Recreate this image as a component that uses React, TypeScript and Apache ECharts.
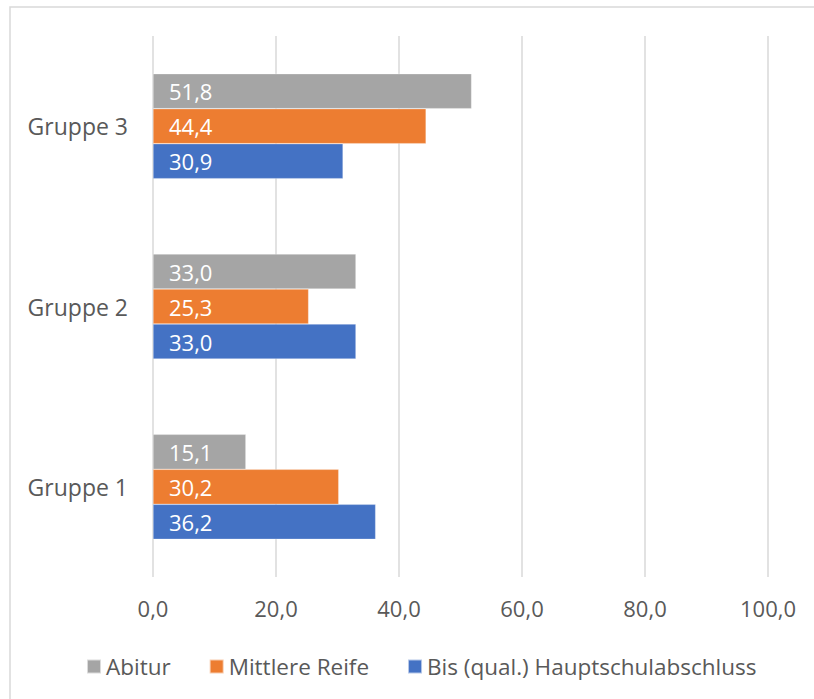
import React, { useEffect, useRef } from "react";
import * as echarts from "echarts";

const categories = ["Gruppe 1", "Gruppe 2", "Gruppe 3"];
const seriesNames = ["Abitur", "Mittlere Reife", "Bis (qual.) Hauptschulabschluss"];
const abitur = [15.1, 33.0, 51.8];
const mittlereReife = [30.2, 25.3, 44.4];
const hauptschule = [36.2, 33.0, 30.9];
const xTicks = [0, 20, 40, 60, 80, 100];
const colors = ["#A5A5A5", "#ED7D31", "#4472C4"];

const FONT = "'Open Sans', Lato, sans-serif";
const fmt = (v: number) => v.toFixed(1).replace(".", ",");

export default function App() {
  const ref = useRef<HTMLDivElement>(null);
  useEffect(() => {
    if (!ref.current) return;
    const chart = echarts.init(ref.current, undefined, { renderer: "svg" });
    const values = [abitur, mittlereReife, hauptschule];
    chart.setOption({
      animation: false,
      textStyle: { fontFamily: FONT },
      graphic: [
        {
          type: "rect",
          shape: { x: 10, y: 7, width: 830, height: 720 },
          style: { fill: "none", stroke: "#d9d9d9", lineWidth: 1.5 },
          silent: true,
        },
      ],
      grid: { left: 153, right: 46, top: 36, bottom: 122, containLabel: false },
      legend: {
        data: seriesNames,
        bottom: 21,
        left: 86,
        padding: 0,
        itemWidth: 14,
        itemHeight: 14,
        itemGap: 38,
        icon: "rect",
        textStyle: { color: "#595959", fontSize: 22.5, fontFamily: FONT },
      },
      xAxis: {
        type: "value",
        min: xTicks[0],
        max: xTicks[xTicks.length - 1],
        interval: 20,
        axisLine: { show: false },
        axisTick: { show: false },
        splitLine: { lineStyle: { color: "#d9d9d9", width: 1.5 } },
        axisLabel: {
          color: "#595959",
          fontSize: 22,
          margin: 20,
          fontFamily: FONT,
          formatter: (v: number) => fmt(v),
        },
      },
      yAxis: {
        type: "category",
        data: categories,
        axisLine: { show: false },
        axisTick: { show: false },
        axisLabel: { color: "#595959", fontSize: 23, margin: 25, fontFamily: FONT },
      },
      series: [0, 1, 2].map((i) => ({
        name: seriesNames[i],
        type: "bar",
        data: values[i],
        barWidth: 35,
        barGap: "0%",
        itemStyle: { color: colors[i], borderColor: "rgba(255,255,255,0.6)", borderWidth: 0.5 },
        label: {
          show: true,
          position: "insideLeft",
          distance: 16,
          color: "#ffffff",
          fontSize: 22,
          fontFamily: FONT,
          formatter: (p: any) => fmt(p.value),
        },
      })),
    });
    return () => chart.dispose();
  }, []);
  return (
    <div
      ref={ref}
      style={{ position: "absolute", left: 0, top: 0, width: 814, height: 699, background: "#fff" }}
    />
  );
}
